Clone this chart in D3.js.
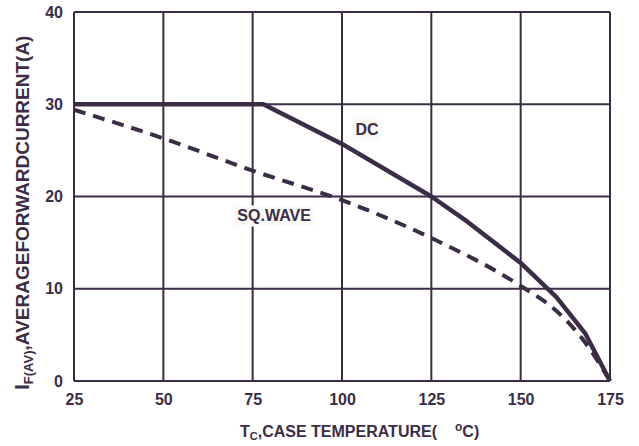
<!DOCTYPE html>
<html>
<head>
<meta charset="utf-8">
<script src="https://cdn.jsdelivr.net/npm/d3@7"></script>
<style>
  body { margin: 0; background: #fff; }
  text { font-family: "Liberation Sans", Arial, sans-serif; font-weight: bold; fill: #3b2d45; }
</style>
</head>
<body>
<div id="chart"></div>
<script>
// data (case temp in degC, current in A)
var xTicks = [25, 50, 75, 100, 125, 150, 175];
var yTicks = [0, 10, 20, 30, 40];
var dcTemp = [25, 78, 100, 125, 135, 150, 160, 168, 175];
var dcCurrent = [30, 30, 25.7, 20, 17.3, 12.8, 9.1, 5.2, 0];
var sqTemp = [25, 50, 75, 100, 125, 150, 160, 168, 175];
var sqCurrent = [29.4, 26.3, 22.8, 19.6, 15.5, 10.3, 7.6, 4.2, 0];

var ink = '#3b2d45';
var svgWidth = 639, svgHeight = 446;
var margin = {top: 12, right: 29, bottom: 65, left: 74};
var width = svgWidth - margin.left - margin.right;
var height = svgHeight - margin.top - margin.bottom;

var svg = d3.select('#chart').append('svg')
    .attr('width', svgWidth).attr('height', svgHeight);
var g = svg.append('g')
    .attr('transform', 'translate(' + margin.left + ' ' + margin.top + ')');

var x = d3.scaleLinear().domain([25, 175]).range([0, width]);
var y = d3.scaleLinear().domain([0, 40]).range([height, 0]);

// grid
g.append('g').selectAll('line').data(xTicks).enter().append('line')
    .attr('x1', function(d) { return x(d); }).attr('x2', function(d) { return x(d); })
    .attr('y1', 0).attr('y2', height)
    .attr('stroke', ink).attr('stroke-width', 2);
g.append('g').selectAll('line').data(yTicks).enter().append('line')
    .attr('y1', function(d) { return y(d); }).attr('y2', function(d) { return y(d); })
    .attr('x1', 0).attr('x2', width)
    .attr('stroke', ink).attr('stroke-width', 2);

// axes (labels only)
var xAxis = g.append('g').attr('transform', 'translate(0 ' + height + ')')
    .call(d3.axisBottom(x).tickValues(xTicks).tickSize(0).tickPadding(0).tickFormat(d3.format('d')));
xAxis.select('.domain').remove();
xAxis.selectAll('text').attr('font-size', '16px').attr('dy', null).attr('y', 24);

var yAxis = g.append('g')
    .call(d3.axisLeft(y).tickValues(yTicks).tickSize(0).tickPadding(11).tickFormat(d3.format('d')));
yAxis.select('.domain').remove();
yAxis.selectAll('text').attr('font-size', '16px');

// curves
var line = d3.line()
    .x(function(d) { return x(d[0]); })
    .y(function(d) { return y(d[1]); });

var sqData = d3.zip(sqTemp, sqCurrent);
var dcData = d3.zip(dcTemp, dcCurrent);

g.append('path').datum(sqData)
    .attr('d', line.curve(d3.curveMonotoneX))
    .attr('fill', 'none').attr('stroke', ink).attr('stroke-width', 4)
    .attr('stroke-dasharray', '12 8');

g.append('path').datum(dcData)
    .attr('d', line.curve(d3.curveLinear))
    .attr('fill', 'none').attr('stroke', ink).attr('stroke-width', 4.5)
    .attr('stroke-linejoin', 'round');

// curve labels with light box behind
function curveLabel(txt, t, v) {
    var lg = g.append('g').attr('transform', 'translate(' + x(t) + ' ' + y(v) + ')');
    var box = lg.append('rect').attr('fill', '#fbf9f6');
    var tx = lg.append('text').attr('text-anchor', 'middle').attr('dy', '0.35em')
        .attr('font-size', '16px').text(txt);
    var bb = tx.node().getBBox();
    box.attr('x', bb.x - 3).attr('y', bb.y - 2).attr('width', bb.width + 6).attr('height', bb.height + 4);
}
curveLabel('DC', 107, 27.3);
curveLabel('SQ.WAVE', 81, 17.9);

// axis titles
var xt = svg.append('text')
    .attr('x', 240).attr('y', 437)
    .attr('font-size', '16px');
xt.append('tspan').text('T');
xt.append('tspan').attr('font-size', '11px').attr('dy', 3).text('C');
xt.append('tspan').attr('dy', -3).text(',CASE TEMPERATURE(');
xt.append('tspan').attr('font-size', '12px').attr('dx', 18).attr('dy', -6).text('o');
xt.append('tspan').attr('dy', 6).text('C)');

var yt = svg.append('text')
    .attr('transform', 'translate(29 390) rotate(-90)')
    .attr('font-size', '19px');
yt.append('tspan').attr('font-size', '21px').text('I');
yt.append('tspan').attr('font-size', '13px').attr('dy', 4).text('F(AV)');
yt.append('tspan').attr('dy', -4).text(',AVERAGEFORWARDCURRENT(A)');
</script>
</body>
</html>
